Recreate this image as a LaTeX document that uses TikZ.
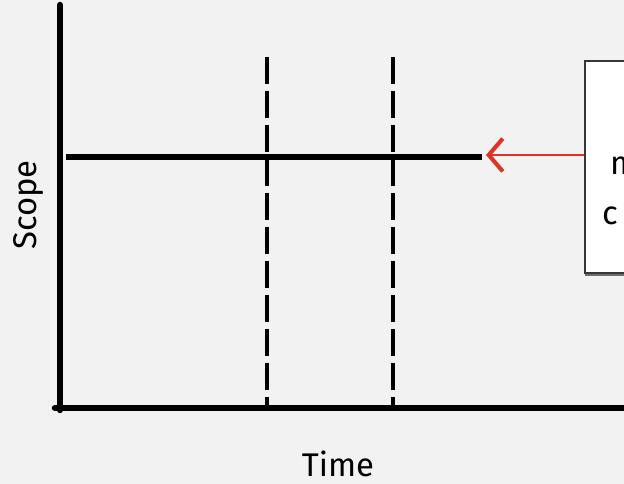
\documentclass[tikz,border=0pt]{standalone}
\usepackage{fontspec}
\setmainfont{Fira Sans}
\usepackage{xcolor}
\definecolor{paperbg}{RGB}{242,242,242}
\definecolor{inkred}{RGB}{222, 52, 38}
\definecolor{boxedge}{RGB}{ 55, 55, 55}
\usetikzlibrary{arrows.meta, shadows}

\begin{document}
\begin{tikzpicture}[x=0.03cm, y=-0.03cm]

  \tikzstyle{axisline} = [line width=5.5pt, black, line cap=round]
  \tikzstyle{scopeline} = [line width=4.5pt, black]
  \tikzstyle{milestone} = [line width=4.2pt, black, dash pattern=on 23pt off 6pt]
  \tikzstyle{axislabel} = [font=\fontsize{28}{34}\selectfont, inner sep=0pt]
  \tikzstyle{notebox} = [
    draw=boxedge, line width=1.5pt, fill=white,
    drop shadow={shadow xshift=0.5pt, shadow yshift=-2.5pt, fill=black!70, opacity=0.8},
    minimum width=3cm, minimum height=6.36cm,
    inner sep=0pt, anchor=north west
  ]

  \fill[paperbg] (0,0) rectangle (624,484);
  \clip (0,0) rectangle (624,484);

  % axes
  \coordinate (origin) at (60,410);
  \coordinate (ytop) at (60,5);
  \coordinate (xleft) at (55,408);
  \coordinate (xend) at (630,408);
  \draw[axisline] (ytop) -- (origin);
  \draw[axisline] (xleft) -- (xend);

  % scope line
  \coordinate (scopeL) at (66,157);
  \coordinate (scopeR) at (482,157);
  \draw[scopeline] (scopeL) -- (scopeR);

  % milestones
  \coordinate (m1top) at (267,57);
  \coordinate (m1bot) at (267,406);
  \coordinate (m2top) at (393,57);
  \coordinate (m2bot) at (393,406);
  \draw[milestone] (m1top) -- (m1bot);
  \draw[milestone] (m2top) -- (m2bot);

  % note
  \node[notebox] (note) at (584,60) {};
  \node[axislabel, anchor=west] (noteA) at (610,166) {m};
  \node[axislabel, anchor=west] (noteB) at (602,216) {c};

  \coordinate (tip) at (486,155);
  \draw[-{Straight Barb[length=12pt, width=28pt, line width=3.5pt]},
        line width=2.2pt, inkred] (note.west |- tip) -- (tip);

  % labels
  \node[axislabel, rotate=90] (scope) at (28,205) {Scope};
  \node[axislabel] (time) at (338,464) {Time};

\end{tikzpicture}
\end{document}
